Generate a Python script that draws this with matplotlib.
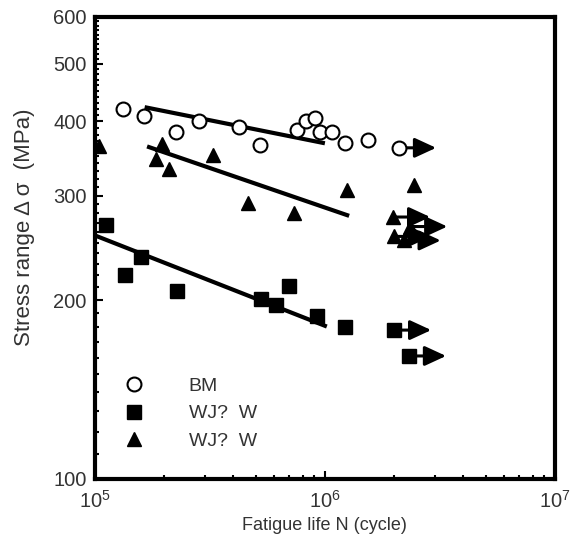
import numpy as np
import matplotlib.pyplot as plt
from matplotlib.ticker import FixedLocator, MultipleLocator, NullFormatter, LogLocator, LogFormatterSciNotation

plt.rcParams['font.family'] = ['Liberation Sans', 'DejaVu Sans']
plt.rcParams['mathtext.fontset'] = 'custom'
plt.rcParams['mathtext.rm'] = 'Liberation Sans'

# base metal (BM), open circles
bm_n = [1.32e5, 1.63e5, 2.25e5, 2.83e5, 4.23e5, 5.2e5, 7.55e5, 8.26e5, 9.06e5, 9.5e5, 1.07e6, 1.22e6, 1.54e6]
bm_s = [420, 408, 384, 401, 391, 365, 387, 401, 405, 384, 384, 368, 372]
bm_run_n = [2.1e6]
bm_run_s = [361]

# welded joint, squares
sq_n = [1.12e5, 1.35e5, 1.58e5, 2.27e5, 5.27e5, 6.13e5, 6.97e5, 9.2e5, 1.22e6]
sq_s = [268, 220, 236, 207, 201, 196, 211, 188, 180]
sq_run_n = [2.0e6, 2.32e6]
sq_run_s = [178, 161]

# welded joint, triangles
tr_n = [1.04e5, 1.96e5, 1.84e5, 2.1e5, 3.26e5, 4.63e5, 7.33e5, 1.25e6, 2.44e6]
tr_s = [364, 366, 346, 332, 351, 292, 280, 307, 313]
tr_run_n = [1.98e6, 2.2e6, 2.35e6, 2.0e6]
tr_run_s = [276, 252, 266, 256]

# regression lines (end points)
bm_fit_n, bm_fit_s = [1.68e5, 9.8e5], [422, 368]
tr_fit_n, tr_fit_s = [1.72e5, 1.25e6], [362, 278]
sq_fit_n, sq_fit_s = [1.0e5, 1.0e6], [257, 181]

labels = ['BM', 'WJ?  W', 'WJ?  W']

fig = plt.figure(figsize=(5.75, 5.44), dpi=100)
ax = fig.add_axes([0.165, 0.12, 0.8, 0.849])

ms = 10
ax.plot(bm_n + bm_run_n, bm_s + bm_run_s, 'o', mfc='white', mec='black', mew=1.5, ms=ms, label=labels[0], zorder=3)
ax.plot(sq_n + sq_run_n, sq_s + sq_run_s, 's', color='black', ms=ms, label=labels[1], zorder=3)
ax.plot(tr_n + tr_run_n, tr_s + tr_run_s, '^', color='black', ms=ms, label=labels[2], zorder=3)

for n, s in zip(bm_run_n + sq_run_n + tr_run_n, bm_run_s + sq_run_s + tr_run_s):
    ax.annotate('', xy=(n * 1.45, s), xytext=(n, s),
                arrowprops=dict(arrowstyle='-|>,head_length=0.65,head_width=0.3', color='black', lw=2.2,
                                mutation_scale=20, shrinkA=0, shrinkB=0), zorder=2)

for fn, fs in [(bm_fit_n, bm_fit_s), (tr_fit_n, tr_fit_s), (sq_fit_n, sq_fit_s)]:
    ax.plot(fn, fs, '-', color='black', lw=3, zorder=2)

ax.set_xscale('log')
ax.set_yscale('log')
ax.set_xlim(1e5, 1e7)
ax.set_ylim(100, 600)

ax.xaxis.set_major_locator(FixedLocator([1e5, 1e6, 1e7]))
ax.xaxis.set_major_formatter(LogFormatterSciNotation())
ax.xaxis.set_minor_locator(LogLocator(base=10, subs=np.arange(2, 10)))
ax.xaxis.set_minor_formatter(NullFormatter())
ax.yaxis.set_major_locator(FixedLocator([100, 200, 300, 400, 500, 600]))
ax.yaxis.set_major_formatter(plt.FuncFormatter(lambda v, p: '%d' % v))
ax.yaxis.set_minor_locator(MultipleLocator(10))
ax.yaxis.set_minor_formatter(NullFormatter())

txt = '#333333'
ax.tick_params(which='both', direction='in', top=False, right=False, width=1.5, colors='black', labelcolor=txt)
ax.tick_params(which='major', length=6, labelsize=14.5)
ax.tick_params(which='minor', length=3)
ax.tick_params(axis='x', pad=8)
ax.tick_params(axis='y', pad=6)
for sp in ax.spines.values():
    sp.set_linewidth(3)

ax.set_xlabel('Fatigue life N (cycle)', fontsize=13, color=txt, labelpad=4)
ax.set_ylabel('Stress range \u0394 \u03c3  (MPa)', fontsize=16, color=txt)
ax.yaxis.set_label_coords(-0.13, 0.545)

leg = ax.legend(loc='lower left', bbox_to_anchor=(0.005, 0.025), frameon=False, fontsize=14,
                handletextpad=1.8, labelspacing=0.5, borderaxespad=0.5)
for t in leg.get_texts():
    t.set_color(txt)

fig.savefig('out.png', dpi=100)
